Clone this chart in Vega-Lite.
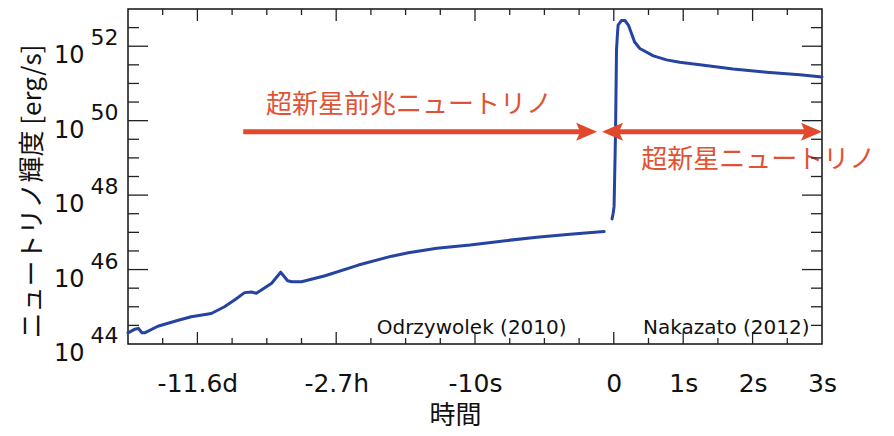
{
  "$schema": "https://vega.github.io/schema/vega-lite/v6.json",
  "width": 694,
  "height": 335,
  "autosize": "none",
  "padding": {"left": 128, "top": 9, "right": 72, "bottom": 92},
  "background": "white",
  "config": {
    "view": {"stroke": "#111", "strokeWidth": 1.5},
    "axis": {"domain": false, "grid": false, "labelColor": "#111", "titleColor": "#111", "labelFlush": false, "labelOverlap": false, "labelBound": false}
  },
  "datasets": {
    "curve": [
      {"model": "Odrzywolek (2010)", "pos": -7.0, "L": 2.0e44},
      {"model": "Odrzywolek (2010)", "pos": -6.9, "L": 2.5e44},
      {"model": "Odrzywolek (2010)", "pos": -6.85, "L": 2.63e44},
      {"model": "Odrzywolek (2010)", "pos": -6.8, "L": 2.0e44},
      {"model": "Odrzywolek (2010)", "pos": -6.76, "L": 2.0e44},
      {"model": "Odrzywolek (2010)", "pos": -6.57, "L": 3.0e44},
      {"model": "Odrzywolek (2010)", "pos": -6.3, "L": 4.2e44},
      {"model": "Odrzywolek (2010)", "pos": -6.09, "L": 5.4e44},
      {"model": "Odrzywolek (2010)", "pos": -5.8, "L": 6.6e44},
      {"model": "Odrzywolek (2010)", "pos": -5.61, "L": 1.0e45},
      {"model": "Odrzywolek (2010)", "pos": -5.45, "L": 1.6e45},
      {"model": "Odrzywolek (2010)", "pos": -5.32, "L": 2.4e45},
      {"model": "Odrzywolek (2010)", "pos": -5.22, "L": 2.5e45},
      {"model": "Odrzywolek (2010)", "pos": -5.15, "L": 2.3e45},
      {"model": "Odrzywolek (2010)", "pos": -4.93, "L": 4.3e45},
      {"model": "Odrzywolek (2010)", "pos": -4.8, "L": 8.5e45},
      {"model": "Odrzywolek (2010)", "pos": -4.7, "L": 5.0e45},
      {"model": "Odrzywolek (2010)", "pos": -4.64, "L": 4.7e45},
      {"model": "Odrzywolek (2010)", "pos": -4.5, "L": 4.7e45},
      {"model": "Odrzywolek (2010)", "pos": -4.16, "L": 6.8e45},
      {"model": "Odrzywolek (2010)", "pos": -3.68, "L": 1.32e46},
      {"model": "Odrzywolek (2010)", "pos": -3.2, "L": 2.29e46},
      {"model": "Odrzywolek (2010)", "pos": -2.96, "L": 2.82e46},
      {"model": "Odrzywolek (2010)", "pos": -2.55, "L": 3.72e46},
      {"model": "Odrzywolek (2010)", "pos": -2.07, "L": 4.57e46},
      {"model": "Odrzywolek (2010)", "pos": -1.59, "L": 5.89e46},
      {"model": "Odrzywolek (2010)", "pos": -1.11, "L": 7.41e46},
      {"model": "Odrzywolek (2010)", "pos": -0.63, "L": 8.91e46},
      {"model": "Odrzywolek (2010)", "pos": -0.14, "L": 1.05e47},
      {"model": "Nakazato (2012)", "pos": -0.025, "L": 2.3e47},
      {"model": "Nakazato (2012)", "pos": -0.01, "L": 3.2e47},
      {"model": "Nakazato (2012)", "pos": 0.004, "L": 4.9e47},
      {"model": "Nakazato (2012)", "pos": 0.025, "L": 4.7e49},
      {"model": "Nakazato (2012)", "pos": 0.039, "L": 7.9e51},
      {"model": "Nakazato (2012)", "pos": 0.053, "L": 2.2e52},
      {"model": "Nakazato (2012)", "pos": 0.062, "L": 3.7e52},
      {"model": "Nakazato (2012)", "pos": 0.11, "L": 4.9e52},
      {"model": "Nakazato (2012)", "pos": 0.16, "L": 4.9e52},
      {"model": "Nakazato (2012)", "pos": 0.21, "L": 3.7e52},
      {"model": "Nakazato (2012)", "pos": 0.255, "L": 2.2e52},
      {"model": "Nakazato (2012)", "pos": 0.3, "L": 1.3e52},
      {"model": "Nakazato (2012)", "pos": 0.375, "L": 8.7e51},
      {"model": "Nakazato (2012)", "pos": 0.57, "L": 5.5e51},
      {"model": "Nakazato (2012)", "pos": 0.76, "L": 4.3e51},
      {"model": "Nakazato (2012)", "pos": 0.95, "L": 3.7e51},
      {"model": "Nakazato (2012)", "pos": 1.24, "L": 3.2e51},
      {"model": "Nakazato (2012)", "pos": 1.72, "L": 2.45e51},
      {"model": "Nakazato (2012)", "pos": 2.2, "L": 2.0e51},
      {"model": "Nakazato (2012)", "pos": 2.68, "L": 1.7e51},
      {"model": "Nakazato (2012)", "pos": 3.0, "L": 1.5e51}
    ],
    "shafts": [
      {"from": -5.34, "to": -0.45, "L": 5.0e49},
      {"from": 0.05, "to": 2.78, "L": 5.0e49}
    ],
    "headsRight": [
      {"pos": -0.24, "L": 5.0e49},
      {"pos": 3.0, "L": 5.0e49}
    ],
    "headsLeft": [
      {"pos": -0.17, "L": 5.0e49}
    ],
    "notes": [
      {"text": "超新星前兆ニュートリノ", "pos": -2.95, "L": 2.6e50},
      {"text": "超新星ニュートリノ", "pos": 2.08, "L": 8.7e48}
    ],
    "sources": [
      {"text": "Odrzywolek (2010)", "pos": -0.68, "L": 1.82e44},
      {"text": "Nakazato (2012)", "pos": 2.82, "L": 1.82e44}
    ],
    "xMajor": [{"pos": -6}, {"pos": -4}, {"pos": -2}, {"pos": 0}, {"pos": 1}, {"pos": 2}],
    "xMinor": [{"pos": -6.5}, {"pos": -5.5}, {"pos": -5}, {"pos": -4.5}, {"pos": -3.5}, {"pos": -3}, {"pos": -2.5}, {"pos": -1.5}, {"pos": -1}, {"pos": -0.5}, {"pos": 0.5}, {"pos": 1.5}, {"pos": 2.5}],
    "yMajor": [{"L": 1e46}, {"L": 1e48}, {"L": 1e50}, {"L": 1e52}],
    "yMinor": [{"L": 3.1623e44}, {"L": 1e45}, {"L": 3.1623e45}, {"L": 3.1623e46}, {"L": 1e47}, {"L": 3.1623e47}, {"L": 3.1623e48}, {"L": 1e49}, {"L": 3.1623e49}, {"L": 3.1623e50}, {"L": 1e51}, {"L": 3.1623e51}, {"L": 3.1623e52}]
  },
  "resolve": {"axis": {"x": "independent", "y": "independent"}},
  "layer": [
    {
      "data": {"name": "curve"},
      "mark": {"type": "line", "color": "#2543a0", "strokeWidth": 3, "strokeJoin": "round", "strokeCap": "round"},
      "encoding": {
        "x": {"field": "pos", "type": "quantitative", "scale": {"domain": [-7, 3], "nice": false, "zero": false},
          "axis": {"orient": "bottom", "values": [-6, -4, -2, 0, 1, 2, 3], "ticks": false, "labelPadding": 27, "labelBaseline": "top", "labelFontSize": 25, "labelFont": "DejaVu Sans",
            "labelExpr": "datum.value == -6 ? '-11.6d' : datum.value == -4 ? '-2.7h' : datum.value == -2 ? '-10s' : datum.value == 0 ? '0' : datum.value + 's'",
            "title": "時間", "titleFont": "Noto Sans CJK JP", "titleFontSize": 26, "titleFontWeight": "normal", "titleX": 327, "titleY": 71, "titleBaseline": "middle", "titleAlign": "center"}},
        "y": {"field": "L", "type": "quantitative", "scale": {"type": "log", "domain": [1e44, 1e53], "nice": false},
          "axis": {"orient": "left", "values": [1e44, 1e46, 1e48, 1e50, 1e52], "ticks": false, "labelExpr": "'10'", "labelFontSize": 24, "labelFont": "DejaVu Sans", "labelPadding": 44, "labelBaseline": "middle", "labelOffset": 9.5,
            "title": "ニュートリノ輝度 [erg/s]", "titleFont": "Noto Sans CJK JP", "titleFontSize": 26, "titleFontWeight": "normal", "titleAngle": 270, "titleX": -96, "titleY": 182, "titleBaseline": "middle", "titleAlign": "center"}},
        "detail": {"field": "model"}
      }
    },
    {
      "data": {"name": "shafts"},
      "mark": {"type": "rule", "color": "#e2482b", "strokeWidth": 5},
      "encoding": {
        "x": {"field": "from", "type": "quantitative", "scale": {"domain": [-7, 3], "nice": false, "zero": false}, "axis": null},
        "x2": {"field": "to"},
        "y": {"field": "L", "type": "quantitative", "scale": {"type": "log", "domain": [1e44, 1e53], "nice": false}, "axis": null}
      }
    },
    {
      "data": {"name": "headsRight"},
      "mark": {"type": "point", "shape": "M0,0L-2.1,-0.9L-1.7,0L-2.1,0.9Z", "size": 400, "filled": true, "color": "#e2482b", "opacity": 1},
      "encoding": {
        "x": {"field": "pos", "type": "quantitative", "scale": {"domain": [-7, 3], "nice": false, "zero": false}, "axis": null},
        "y": {"field": "L", "type": "quantitative", "scale": {"type": "log", "domain": [1e44, 1e53], "nice": false}, "axis": null}
      }
    },
    {
      "data": {"name": "headsLeft"},
      "mark": {"type": "point", "shape": "M0,0L2.1,-0.9L1.7,0L2.1,0.9Z", "size": 400, "filled": true, "color": "#e2482b", "opacity": 1},
      "encoding": {
        "x": {"field": "pos", "type": "quantitative", "scale": {"domain": [-7, 3], "nice": false, "zero": false}, "axis": null},
        "y": {"field": "L", "type": "quantitative", "scale": {"type": "log", "domain": [1e44, 1e53], "nice": false}, "axis": null}
      }
    },
    {
      "data": {"name": "notes"},
      "mark": {"type": "text", "font": "Noto Sans CJK JP", "fontSize": 26, "color": "#df5334", "align": "center", "baseline": "middle"},
      "encoding": {
        "x": {"field": "pos", "type": "quantitative", "scale": {"domain": [-7, 3], "nice": false, "zero": false}, "axis": null},
        "y": {"field": "L", "type": "quantitative", "scale": {"type": "log", "domain": [1e44, 1e53], "nice": false}, "axis": null},
        "text": {"field": "text"}
      }
    },
    {
      "data": {"name": "sources"},
      "mark": {"type": "text", "font": "DejaVu Sans", "fontSize": 20, "color": "#111", "align": "right", "baseline": "alphabetic"},
      "encoding": {
        "x": {"field": "pos", "type": "quantitative", "scale": {"domain": [-7, 3], "nice": false, "zero": false}, "axis": null},
        "y": {"field": "L", "type": "quantitative", "scale": {"type": "log", "domain": [1e44, 1e53], "nice": false},
          "axis": {"orient": "left", "values": [1e44, 1e46, 1e48, 1e50, 1e52], "ticks": false, "title": null, "labelExpr": "'' + round(log(datum.value) / LN10)", "labelFontSize": 22, "labelFont": "DejaVu Sans", "labelPadding": 10, "labelBaseline": "middle", "labelOffset": -8.5}},
        "text": {"field": "text"}
      }
    },
    {
      "data": {"name": "xMajor"},
      "mark": {"type": "tick", "orient": "vertical", "size": 12, "thickness": 1.3, "color": "#222", "opacity": 1, "yOffset": -6},
      "encoding": {
        "x": {"field": "pos", "type": "quantitative", "scale": {"domain": [-7, 3], "nice": false, "zero": false}, "axis": null},
        "y": {"datum": 1e44, "type": "quantitative", "scale": {"type": "log", "domain": [1e44, 1e53], "nice": false}, "axis": null}
      }
    },
    {
      "data": {"name": "xMajor"},
      "mark": {"type": "tick", "orient": "vertical", "size": 12, "thickness": 1.3, "color": "#222", "opacity": 1, "yOffset": 6},
      "encoding": {
        "x": {"field": "pos", "type": "quantitative", "scale": {"domain": [-7, 3], "nice": false, "zero": false}, "axis": null},
        "y": {"datum": 1e53, "type": "quantitative", "scale": {"type": "log", "domain": [1e44, 1e53], "nice": false}, "axis": null}
      }
    },
    {
      "data": {"name": "xMinor"},
      "mark": {"type": "tick", "orient": "vertical", "size": 6, "thickness": 1.3, "color": "#222", "opacity": 1, "yOffset": -3},
      "encoding": {
        "x": {"field": "pos", "type": "quantitative", "scale": {"domain": [-7, 3], "nice": false, "zero": false}, "axis": null},
        "y": {"datum": 1e44, "type": "quantitative", "scale": {"type": "log", "domain": [1e44, 1e53], "nice": false}, "axis": null}
      }
    },
    {
      "data": {"name": "xMinor"},
      "mark": {"type": "tick", "orient": "vertical", "size": 6, "thickness": 1.3, "color": "#222", "opacity": 1, "yOffset": 3},
      "encoding": {
        "x": {"field": "pos", "type": "quantitative", "scale": {"domain": [-7, 3], "nice": false, "zero": false}, "axis": null},
        "y": {"datum": 1e53, "type": "quantitative", "scale": {"type": "log", "domain": [1e44, 1e53], "nice": false}, "axis": null}
      }
    },
    {
      "data": {"name": "yMajor"},
      "mark": {"type": "tick", "orient": "horizontal", "size": 20, "thickness": 1.3, "color": "#222", "opacity": 1, "xOffset": 10},
      "encoding": {
        "x": {"datum": -7, "type": "quantitative", "scale": {"domain": [-7, 3], "nice": false, "zero": false}, "axis": null},
        "y": {"field": "L", "type": "quantitative", "scale": {"type": "log", "domain": [1e44, 1e53], "nice": false}, "axis": null}
      }
    },
    {
      "data": {"name": "yMajor"},
      "mark": {"type": "tick", "orient": "horizontal", "size": 20, "thickness": 1.3, "color": "#222", "opacity": 1, "xOffset": -10},
      "encoding": {
        "x": {"datum": 3, "type": "quantitative", "scale": {"domain": [-7, 3], "nice": false, "zero": false}, "axis": null},
        "y": {"field": "L", "type": "quantitative", "scale": {"type": "log", "domain": [1e44, 1e53], "nice": false}, "axis": null}
      }
    },
    {
      "data": {"name": "yMinor"},
      "mark": {"type": "tick", "orient": "horizontal", "size": 11, "thickness": 1.3, "color": "#222", "opacity": 1, "xOffset": 5.5},
      "encoding": {
        "x": {"datum": -7, "type": "quantitative", "scale": {"domain": [-7, 3], "nice": false, "zero": false}, "axis": null},
        "y": {"field": "L", "type": "quantitative", "scale": {"type": "log", "domain": [1e44, 1e53], "nice": false}, "axis": null}
      }
    },
    {
      "data": {"name": "yMinor"},
      "mark": {"type": "tick", "orient": "horizontal", "size": 11, "thickness": 1.3, "color": "#222", "opacity": 1, "xOffset": -5.5},
      "encoding": {
        "x": {"datum": 3, "type": "quantitative", "scale": {"domain": [-7, 3], "nice": false, "zero": false}, "axis": null},
        "y": {"field": "L", "type": "quantitative", "scale": {"type": "log", "domain": [1e44, 1e53], "nice": false}, "axis": null}
      }
    }
  ]
}
